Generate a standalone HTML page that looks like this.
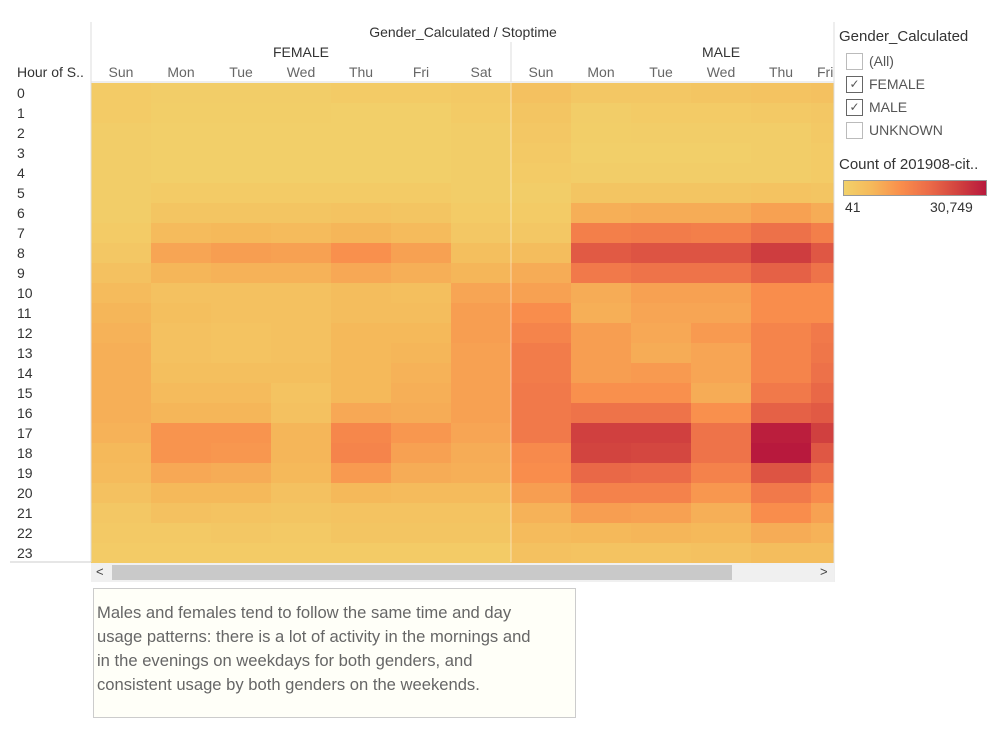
<!DOCTYPE html>
<html><head><meta charset="utf-8"><style>
body{margin:0;width:998px;height:754px;background:#fff;font-family:"Liberation Sans",sans-serif;color:#333;position:relative;overflow:hidden}
.a{position:absolute;white-space:nowrap}
.cb{position:absolute;left:846px;width:15px;height:15px;border:1px solid #bbb;background:#fff;font-size:12px;line-height:15px;text-align:center;color:#555}
.ck{border-color:#666}
.lt{position:absolute;left:869px;font-size:14px;color:#555}
</style></head><body>
<svg id="chart" width="998" height="754" style="position:absolute;left:0;top:0">
<defs><clipPath id="plotclip"><rect x="0" y="0" width="834" height="754"/></clipPath></defs>
<g id="cells"></g>
<line x1="91" y1="22" x2="91" y2="562" stroke="#ddd"/>
<line x1="511" y1="42" x2="511" y2="82" stroke="#ddd"/>
<line x1="511" y1="82" x2="511" y2="562" stroke="#fff" stroke-opacity="0.5"/>
<line x1="10" y1="562" x2="91" y2="562" stroke="#ccc"/>
<line x1="834" y1="22" x2="834" y2="582" stroke="#ddd"/>
<line x1="91" y1="82" x2="834" y2="82" stroke="#ddd"/>
<text x="463" y="37" font-size="14" text-anchor="middle" fill="#333">Gender_Calculated / Stoptime</text>
<text x="17" y="77" font-size="14" fill="#333">Hour of S..</text>
<g id="labels" clip-path="url(#plotclip)"></g>
</svg>
<div class="a" style="left:91px;top:563px;width:743px;height:19px;background:#f0f0f0"></div>
<div class="a" style="left:112px;top:565px;width:620px;height:15px;background:#c9c9c9"></div>
<div class="a" style="left:96px;top:564px;font-size:13px;color:#444">&lt;</div>
<div class="a" style="left:820px;top:564px;font-size:13px;color:#444">&gt;</div>
<div class="a" style="left:93px;top:588px;width:483px;height:130px;background:#fffff8;border:1px solid #ccc;white-space:normal;box-sizing:border-box;padding:12px 40px 0 3px;font-size:16.6px;line-height:24px;color:#666">Males and females tend to follow the same time and day usage patterns: there is a lot of activity in the mornings and in the evenings on weekdays for both genders, and consistent usage by both genders on the weekends.</div>
<div class="a" style="left:839px;top:28px;font-size:15px;color:#333">Gender_Calculated</div>
<div class="cb" style="top:53px"></div><div class="lt" style="top:53px">(All)</div>
<div class="cb ck" style="top:76px">✓</div><div class="lt" style="top:76px">FEMALE</div>
<div class="cb ck" style="top:99px">✓</div><div class="lt" style="top:99px">MALE</div>
<div class="cb" style="top:122px"></div><div class="lt" style="top:122px">UNKNOWN</div>
<div class="a" style="left:839px;top:156px;font-size:15px;color:#333">Count of 201908-cit..</div>
<div class="a" style="left:843px;top:180px;width:142px;height:14px;border:1px solid #999;background:linear-gradient(to right,#f2d16a,#f5b85a 20%,#f98e4c 40%,#eb6b48 60%,#d2433f 80%,#b8193d)"></div>
<div class="a" style="left:845px;top:199px;font-size:14px">41</div>
<div class="a" style="left:930px;top:199px;font-size:14px">30,749</div>
<script>
const days=["Sun","Mon","Tue","Wed","Thu","Fri","Sat"];
const maleDays=["Sun","Mon","Tue","Wed","Thu","Fri"];
const hours=[0,1,2,3,4,5,6,7,8,9,10,11,12,13,14,15,16,17,18,19,20,21,22,23];
const femaleK=[
[1.5,1,1,1,1.5,1.5,2],[1.5,.7,.7,.7,.5,.5,1.5],[1,.5,.5,.5,.5,.5,1],[1,.5,.5,.5,.5,.5,1],[1,.5,.5,.5,.5,.5,1],
[1,1.5,1.5,1.5,1.5,1.5,1],[1,3,3,3,3.5,3,1.5],[1.5,5.5,6,5.5,6.5,5.5,2.5],[2.5,9,10,9.5,12,9.5,4.5],[4,6.5,7,7,8.5,7.5,6.5],
[5.5,4,4,4,5,4.5,9],[6.5,4.5,4,4,5,5,10],[7,4,3.5,4,6,6,10],[7.5,4,3.5,4,6,6.5,9.5],[7.5,4.5,4.5,4.5,6,7,9.5],
[7.5,5.5,5.5,3.5,6,7.5,9.5],[7.5,6.5,6.5,4,8.5,8,9.5],[7,11.5,11.5,6.5,13.5,11,9],[6,11.5,11,6.5,14,9.5,8],[5.5,8.5,8,6,10.5,8,7.5],
[4,6,6,4,6,5.5,5.5],[2.5,4,3.5,3,3.5,3.5,3.5],[2,2,2.5,2,3,3,3],[1.5,1.5,1.5,1.5,1.5,1.5,1.5]];
const maleK=[
[4,2.5,2.5,3,3.5,4],[3,1,1.5,1.5,2,2.5],[2.5,.8,1,1,1,2],[2,.5,.5,.5,1,1.5],[1.5,1,1,1,1,1.5],
[1,3,3,3,3.5,3],[1.5,7.5,8,8,9.5,8],[2.5,15,15.5,15,17.5,15],[5,21,22,22,25.5,21.5],[8,16,17,17,20,17],
[9.5,8,9.5,9.5,12.5,12.5],[12.5,7.5,9,9,12.5,12.5],[14,10,8.5,10.5,14,16],[15.5,10,8,9,14,16.5],[15.5,10,10.5,9,14,17.5],
[16,12,12,8,16,19],[16,17,17,12,20,21],[16,25,25,17,30,25],[13,24.5,24,17,30.749,21.5],[12.5,19,18.5,14.5,22,18],
[10,14.5,14.5,11,16,13],[7,10,9.5,7.5,12.5,9.5],[5.5,6,6.5,6,8,7],[4,3.5,3.5,4,5,5]];
const vMin=41,vMax=30749;
const stops=[[242,209,106],[245,184,90],[249,142,76],[235,107,72],[210,67,63],[184,25,61]];
function color(v){let t=Math.max(0,Math.min(1,(v-vMin)/(vMax-vMin)))*(stops.length-1);let i=Math.min(Math.floor(t),stops.length-2),f=t-i;
const c=stops[i].map((a,k)=>Math.round(a+(stops[i+1][k]-a)*f));return `rgb(${c})`;}
const X0=91,CW=60,Y0=83,RH=20,XMAX=834;
const xPos=(g,d)=>X0+(g*7+d)*CW, yPos=h=>Y0+h*RH;
const NS="http://www.w3.org/2000/svg";
const cells=document.getElementById('cells'),labels=document.getElementById('labels');
function txt(x,y,s,anchor,size,fill){const t=document.createElementNS(NS,'text');t.setAttribute('x',x);t.setAttribute('y',y);t.setAttribute('font-size',size);t.setAttribute('text-anchor',anchor);t.setAttribute('fill',fill);t.textContent=s;labels.appendChild(t);return t;}
[[femaleK,days,0],[maleK,maleDays,1]].forEach(([data,dd,g])=>{
 hours.forEach((h,hi)=>dd.forEach((d,di)=>{
  const x=xPos(g,di);const w=Math.min(CW,XMAX-x);if(w<=0)return;
  const r=document.createElementNS(NS,'rect');
  r.setAttribute('x',x);r.setAttribute('y',yPos(hi));r.setAttribute('width',w);r.setAttribute('height',RH);
  r.setAttribute('fill',color(data[hi][di]*1000));
  
  
  cells.appendChild(r);
 }));
 dd.forEach((d,di)=>{const x=xPos(g,di);const w=Math.min(CW,XMAX-x);
  const t=txt(w<CW?x+6:x+CW/2,77,d,w<CW?'start':'middle',14,'#666');
  
  });
});
const f=txt(301,57,'FEMALE','middle',14,'#333');


const m=txt(721,57,'MALE','middle',14,'#333');


hours.forEach((h,hi)=>{const t=txt(17,yPos(hi)+15,String(h),'start',14,'#333');
 
 });
</script>
</body></html>
